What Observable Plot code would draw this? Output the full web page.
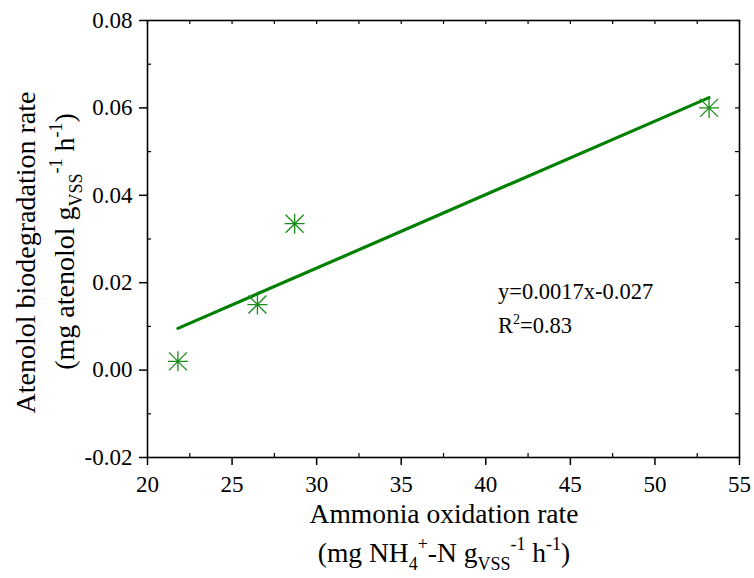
<!DOCTYPE html>
<html>
<head>
<meta charset="utf-8">
<script src="https://cdn.jsdelivr.net/npm/d3@7"></script>
<script src="https://cdn.jsdelivr.net/npm/@observablehq/plot@0.6"></script>
<style>
  body { margin: 0; background: #fff; }
  #chart svg { display: block; }
</style>
</head>
<body>
<div id="chart"></div>
<script>
// Ammonia oxidation rate (mg NH4+-N gVSS-1 h-1) vs atenolol biodegradation rate
const ammoniaRate = [21.8, 26.5, 28.7, 53.2];
const atenololRate = [0.002, 0.015, 0.0335, 0.060];

// Axis ticks
const xMajor = [20, 25, 30, 35, 40, 45, 50, 55];
const xMinor = [22.5, 27.5, 32.5, 37.5, 42.5, 47.5, 52.5];
const yMajor = [-0.02, 0, 0.02, 0.04, 0.06, 0.08];
const yMinor = [-0.01, 0.01, 0.03, 0.05, 0.07];

// Fit annotation
const fitEquation = "y=0.0017x-0.027";
const fitR2 = "0.83";

const points = ammoniaRate.map((x, i) => ({x, y: atenololRate[i]}));

const W = 754, H = 578;
const M = {left: 147, right: 15, top: 20, bottom: 121};
const innerW = W - M.left - M.right;
const innerH = H - M.top - M.bottom;
const green = "#008000";
const font = "'Liberation Serif', 'Times New Roman', serif";
const titleSize = 27.5;
const tickSize = 23;

// eight-armed asterisk marker
const asterisk8 = {
  draw(ctx, size) {
    const r = Math.sqrt(size / Math.PI);
    const d = r * 0.9;
    ctx.moveTo(-r, 0); ctx.lineTo(r, 0);
    ctx.moveTo(0, -r); ctx.lineTo(0, r);
    ctx.moveTo(-d, -d); ctx.lineTo(d, d);
    ctx.moveTo(-d, d); ctx.lineTo(d, -d);
  }
};

const chart = Plot.plot({
  width: W,
  height: H,
  marginLeft: M.left,
  marginRight: M.right,
  marginTop: M.top,
  marginBottom: M.bottom,
  style: {background: "#fff", color: "#000"},
  x: {domain: [20, 55]},
  y: {domain: [-0.02, 0.08]},
  marks: [
    Plot.frame({stroke: "#000", strokeWidth: 1.6}),
    // outward major ticks with labels
    Plot.axisX(xMajor, {anchor: "bottom", tickSize: 8, tickPadding: 10, strokeWidth: 1.5, label: null,
      tickFormat: d => String(d)}),
    Plot.axisY(yMajor, {anchor: "left", tickSize: 8, tickPadding: 7, strokeWidth: 1.5, label: null,
      tickFormat: d => d.toFixed(2)}),
    // inward minor ticks on bottom/left
    Plot.tickX(xMinor, {x: d => d, stroke: "#000", strokeWidth: 1.2, insetTop: innerH - 4}),
    Plot.tickY(yMinor, {y: d => d, stroke: "#000", strokeWidth: 1.2, insetRight: innerW - 4}),
    // inward ticks on top/right
    Plot.tickX(xMajor.concat(xMinor), {x: d => d, stroke: "#000", strokeWidth: 1.2, insetBottom: innerH - 4}),
    Plot.tickY(yMajor.concat(yMinor), {y: d => d, stroke: "#000", strokeWidth: 1.2, insetLeft: innerW - 4}),
    // least-squares fit over the measured range
    Plot.linearRegressionY(points, {x: "x", y: "y", ci: 0, stroke: green, strokeWidth: 3.2}),
    Plot.dot(points, {x: "x", y: "y", symbol: asterisk8, r: 10, fill: "none", stroke: "#1a8c1a", strokeWidth: 1.3})
  ]
});

document.getElementById("chart").appendChild(chart);

const svg = d3.select(chart);
// serif tick labels
svg.selectAll("text")
  .style("font-family", font)
  .style("font-size", tickSize + "px");

// text with sub/superscript runs
function richText(sel, parts, size) {
  let offset = 0;
  const small = Math.round(size * 0.64);
  for (const p of parts) {
    const target = p.s === "sub" ? size * 0.3 : p.s === "sup" ? -size * 0.42 : 0;
    const ts = sel.append("tspan").attr("dy", target - offset).text(p.t);
    if (p.s) ts.style("font-size", small + "px");
    offset = target;
  }
  if (offset !== 0) sel.append("tspan").attr("dy", -offset).text("");
}

function addText(x, y, size, anchor, transform) {
  const t = svg.append("text")
    .attr("text-anchor", anchor)
    .style("font-family", font)
    .style("font-size", size + "px")
    .attr("fill", "#000");
  if (transform) t.attr("transform", transform);
  else t.attr("x", x).attr("y", y);
  return t;
}

const cx = M.left + innerW / 2 + 1;

// x-axis title
addText(cx, 523, titleSize, "middle").text("Ammonia oxidation rate");
richText(
  addText(cx, 562, titleSize, "middle"),
  [{t: "(mg NH"}, {t: "4", s: "sub"}, {t: "+", s: "sup"}, {t: "-N g"}, {t: "VSS", s: "sub"}, {t: "-1", s: "sup"}, {t: " h"}, {t: "-1", s: "sup"}, {t: ")"}],
  titleSize
);

// y-axis title
addText(0, 0, 28, "middle", `translate(35,${M.top + innerH / 2 + 14}) rotate(-90)`)
  .text("Atenolol biodegradation rate");
richText(
  addText(0, 0, 28, "middle", `translate(74,${M.top + innerH / 2 + 3}) rotate(-90)`),
  [{t: "(mg atenolol g"}, {t: "VSS", s: "sub"}, {t: "-1", s: "sup"}, {t: " h"}, {t: "-1", s: "sup"}, {t: ")"}],
  28
);

// fit annotation
addText(498, 299, 22.5, "start").text(fitEquation);
richText(
  addText(498, 333, 22.5, "start"),
  [{t: "R"}, {t: "2", s: "sup"}, {t: "=" + fitR2}],
  22.5
);
</script>
</body>
</html>
